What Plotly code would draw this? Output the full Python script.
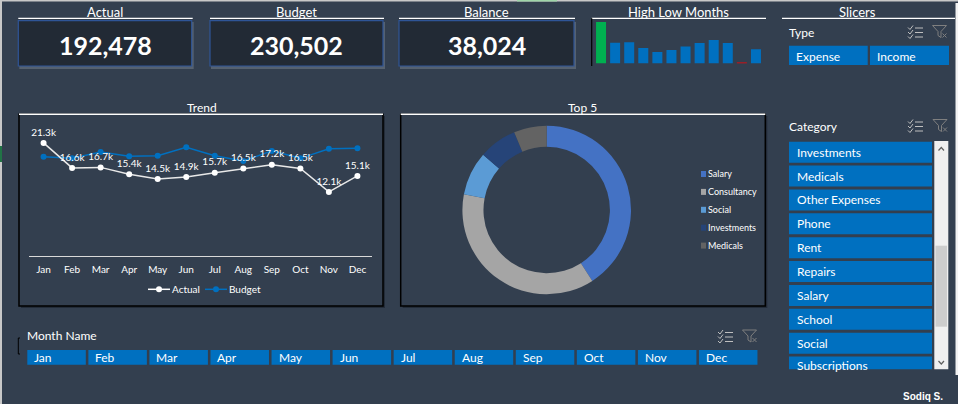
import plotly.graph_objects as go

## dashboard size in pixels
W, H = 958, 404
BG = "#333F4F"
CARD = "#222A35"
BLUE = "#0070C0"
FONT = "Lato"

#### data
months = ["Jan", "Feb", "Mar", "Apr", "May", "Jun", "Jul", "Aug", "Sep", "Oct", "Nov", "Dec"]
actual = [21.3, 16.6, 16.7, 15.4, 14.5, 14.9, 15.7, 16.5, 17.2, 16.5, 12.1, 15.1]
budget = [18.7, 18.4, 19.6, 18.8, 18.9, 20.5, 18.9, 17.9, 19.8, 18.4, 20.2, 20.3]
series_names = ["Actual", "Budget"]
series_colors = ["white", BLUE]

kpi_names = ["Actual", "Budget", "Balance"]
kpi_values = [192478, 230502, 38024]

top5_names = ["Salary", "Consultancy", "Social", "Investments", "Medicals"]
top5_values = [40.9, 37.1, 8.4, 7.3, 6.3]
top5_colors = ["#4472C4", "#A5A5A5", "#5B9BD5", "#264478", "#636363"]

types = ["Expense", "Income"]
categories = ["Investments", "Medicals", "Other Expenses", "Phone", "Rent", "Repairs",
              "Salary", "School", "Social", "Subscriptions"]


## pixel -> paper helpers
def X(p):
    return p / W


def Y(p):
    return 1 - p / H


shapes = []
annotations = []


def rect(x0, y0, x1, y1, fill=None, line=None, lw=1):
    shapes.append(dict(type="rect", xref="paper", yref="paper", layer="below",
                       x0=X(x0), x1=X(x1), y0=Y(y1), y1=Y(y0),
                       fillcolor=fill or "rgba(0,0,0,0)",
                       line=dict(color=line or "rgba(0,0,0,0)", width=lw if line else 0)))


def dot(x, y, rad, color):
    shapes.append(dict(type="circle", xref="paper", yref="paper", layer="below",
                       x0=X(x - rad), x1=X(x + rad), y0=Y(y + rad), y1=Y(y - rad),
                       fillcolor=color, line=dict(width=0)))


def path(pts, color, lw=1, closed=False, fill=None):
    d = "M " + " L ".join(f"{X(a)},{Y(b)}" for a, b in pts)
    if closed:
        d += " Z"
    shapes.append(dict(type="path", xref="paper", yref="paper", layer="below", path=d,
                       fillcolor=fill or "rgba(0,0,0,0)", line=dict(color=color, width=lw)))


def text(x, y, s, size=12, color="white", anchor="center", family=FONT, weight="normal"):
    annotations.append(dict(x=X(x), y=Y(y), xref="paper", yref="paper", text=s, showarrow=False,
                            xanchor=anchor, yanchor="middle", borderpad=0,
                            font=dict(size=size, color=color, family=family, weight=weight)))


def multi_icon(x0, y0):
    for k in range(3):
        y = y0 + k * 4.5
        path([(x0, y + 2), (x0 + 2, y + 4), (x0 + 5, y)], "#BFBFBF", 1)
        path([(x0 + 7, y + 2.5), (x0 + 15, y + 2.5)], "#BFBFBF", 1)


def filter_icon(x0, y0):
    path([(x0, y0), (x0 + 14, y0), (x0 + 8.5, y0 + 6), (x0 + 8.5, y0 + 12),
          (x0 + 5.5, y0 + 10), (x0 + 5.5, y0 + 6)], "#7F7F7F", 1, closed=True)
    path([(x0 + 10, y0 + 8), (x0 + 14, y0 + 12)], "#7F7F7F", 1)
    path([(x0 + 14, y0 + 8), (x0 + 10, y0 + 12)], "#7F7F7F", 1)


## excel edges
rect(0, 0, W, 1.5, fill="#C8C8C8")
rect(517, 0, 557, 1.5, fill="#9FD5A9")
rect(0, 0, 2, H, fill="#C8C8C8")
rect(0, 146, 2, 162, fill="#217346")
rect(955.5, 3, W, 375, fill="#F2F2F2")

## KPI cards
for name, val, x0, x1 in zip(kpi_names, kpi_values, [18.3, 210, 399], [191.7, 383, 574]):
    cx = (x0 + x1) / 2
    text(cx, 11.7, name, size=13)
    path([(x0, 18.3), (x1 + 1, 18.3)], "white", 1.2)
    rect(x0 + 1, 22, x1 + 2, 69, fill="rgba(150,160,175,0.35)")
    rect(x0, 20.7, x1, 66, fill=CARD, line="#2F5597", lw=1.2)
    text(cx, 45, f"{val:,}", size=25, weight="bold")

## high low months header
text(678.3, 11.7, "High Low Months", size=13)
path([(591.7, 18.3), (766, 18.3)], "white", 1.2)
path([(591.7, 18.3), (591.7, 66)], "black", 1.2)

## slicers header and type slicer
text(857.3, 11.7, "Slicers", size=13)
path([(782, 18.3), (955, 18.3)], "white", 1.2)
text(788, 32.3, "Type", size=12, anchor="left")
multi_icon(908, 25.5)
filter_icon(932.5, 25.5)
for t, x0, x1 in zip(types, [789, 870], [867.7, 949]):
    rect(x0, 45.7, x1, 65, fill=BLUE)
    text(x0 + 6, 56, t, size=12, anchor="left")

## trend and top 5 boxes
for title, x0, x1, cx in [("Trend", 19, 383, 201.7), ("Top 5", 400.7, 765.3, 582.7)]:
    rect(x0 + 2, 116, x1 + 2, 308, fill="rgba(20,25,35,0.5)")
    rect(x0, 114.3, x1, 306, fill=BG, line="black", lw=1.5)
    path([(x0, 114.3), (x1, 114.3)], "white", 1.5)
    text(cx, 107.7, title, size=12)

## trend legend
for name, col, lx in zip(series_names, series_colors, [148, 205]):
    path([(lx, 289.3), (lx + 22, 289.3)], col, 1.5)
    dot(lx + 11, 289.3, 3, col)
    text(lx + 23, 289.3, name, size=10, anchor="left")

## top 5 legend
for i, (name, col) in enumerate(zip(top5_names, top5_colors)):
    ly = 174 + i * 17.9
    rect(701, ly - 3, 706, ly + 3, fill=col)
    text(707, ly, name, size=9, anchor="left")

## category slicer
text(788, 126, "Category", size=12, anchor="left")
multi_icon(908, 119.5)
filter_icon(933, 119.5)
for i, c in enumerate(categories):
    y0 = 141.7 + i * 23.875
    y1 = min(y0 + 21, 369.3)
    rect(789, y0, 932, y1, fill=BLUE)
    text(796, min(y0 + 10.5, 365), c, size=12, anchor="left")
rect(934.3, 141, 948.3, 369.3, fill="#F0F0F0")
rect(935.5, 245.7, 947, 326.7, fill="#CDCDCD")
path([(938.5, 150.5), (941.3, 147.5), (944, 150.5)], "#606060", 1.2)
path([(938.5, 361), (941.3, 364), (944, 361)], "#606060", 1.2)

## month slicer
text(26, 335.7, "Month Name", size=12, anchor="left")
multi_icon(718, 330)
filter_icon(742.5, 330)
path([(20, 338), (18.3, 338), (18.3, 354), (20, 354)], "black", 1)
for i, m in enumerate(months):
    x0 = 27.3 + i * 61.06
    rect(x0, 350, x0 + 58.5, 364.7, fill=BLUE)
    text(x0 + 6, 357.5, m, size=12, anchor="left")

text(923, 396.7, "Sodiq S.", size=10, family="Liberation Sans", weight="bold")

#### figure
fig = go.Figure()

## trend lines
fig.add_trace(go.Scatter(
    x=months, y=budget, name=series_names[1], mode="lines+markers",
    line=dict(color=series_colors[1], width=1.5), marker=dict(color=series_colors[1], size=6),
    showlegend=False, xaxis="x", yaxis="y"))
fig.add_trace(go.Scatter(
    x=months, y=actual, name=series_names[0], mode="lines+markers+text",
    text=[f"{v:.1f}k" for v in actual], textposition="top center",
    textfont=dict(color="white", size=10, family=FONT),
    line=dict(color="#E8E8E8", width=1.5), marker=dict(color=series_colors[0], size=6),
    showlegend=False, xaxis="x", yaxis="y"))

## high low sparkline
hi = actual.index(max(actual))
lo = actual.index(min(actual))
bar_colors = ["#00B050" if i == hi else "#FF0000" if i == lo else BLUE for i in range(len(actual))]
fig.add_trace(go.Bar(x=months, y=actual, marker=dict(color=bar_colors, line=dict(width=0)),
                     showlegend=False, xaxis="x2", yaxis="y2"))

## top 5 donut
cx, cy, r = 546.7, 210, 84.3
fig.add_trace(go.Pie(
    labels=top5_names, values=top5_values, hole=0.75, sort=False, direction="clockwise",
    marker=dict(colors=top5_colors, line=dict(width=0)), textinfo="none",
    domain=dict(x=[X(cx - r), X(cx + r)], y=[Y(cy + r), Y(cy - r)]),
    showlegend=False))

fig.update_layout(
    width=W, height=H, margin=dict(l=0, r=0, t=0, b=0),
    paper_bgcolor=BG, plot_bgcolor="rgba(0,0,0,0)",
    font=dict(family=FONT, color="white"),
    shapes=shapes, annotations=annotations, bargap=0.29, showlegend=False,
    xaxis=dict(domain=[X(29.3), X(371.7)], anchor="y", range=[-0.5, 11.5], showline=True,
               linecolor="#D9D9D9", linewidth=1, showgrid=False, ticks="",
               tickfont=dict(color="white", size=10), ticklabelstandoff=4, fixedrange=True),
    yaxis=dict(domain=[Y(256.3), Y(123.2)], anchor="x", range=[0, 25], visible=False,
               fixedrange=True),
    xaxis2=dict(domain=[X(594), X(763)], anchor="y2", visible=False, fixedrange=True),
    yaxis2=dict(domain=[Y(63.3), Y(22)], anchor="x2", range=[11.9, 21.3], visible=False,
                fixedrange=True),
)

## the page's default body margin would push the dashboard off the window
fig.write_html("out.html", config={"displayModeBar": False},
               post_script="document.body.style.margin = '0';")
